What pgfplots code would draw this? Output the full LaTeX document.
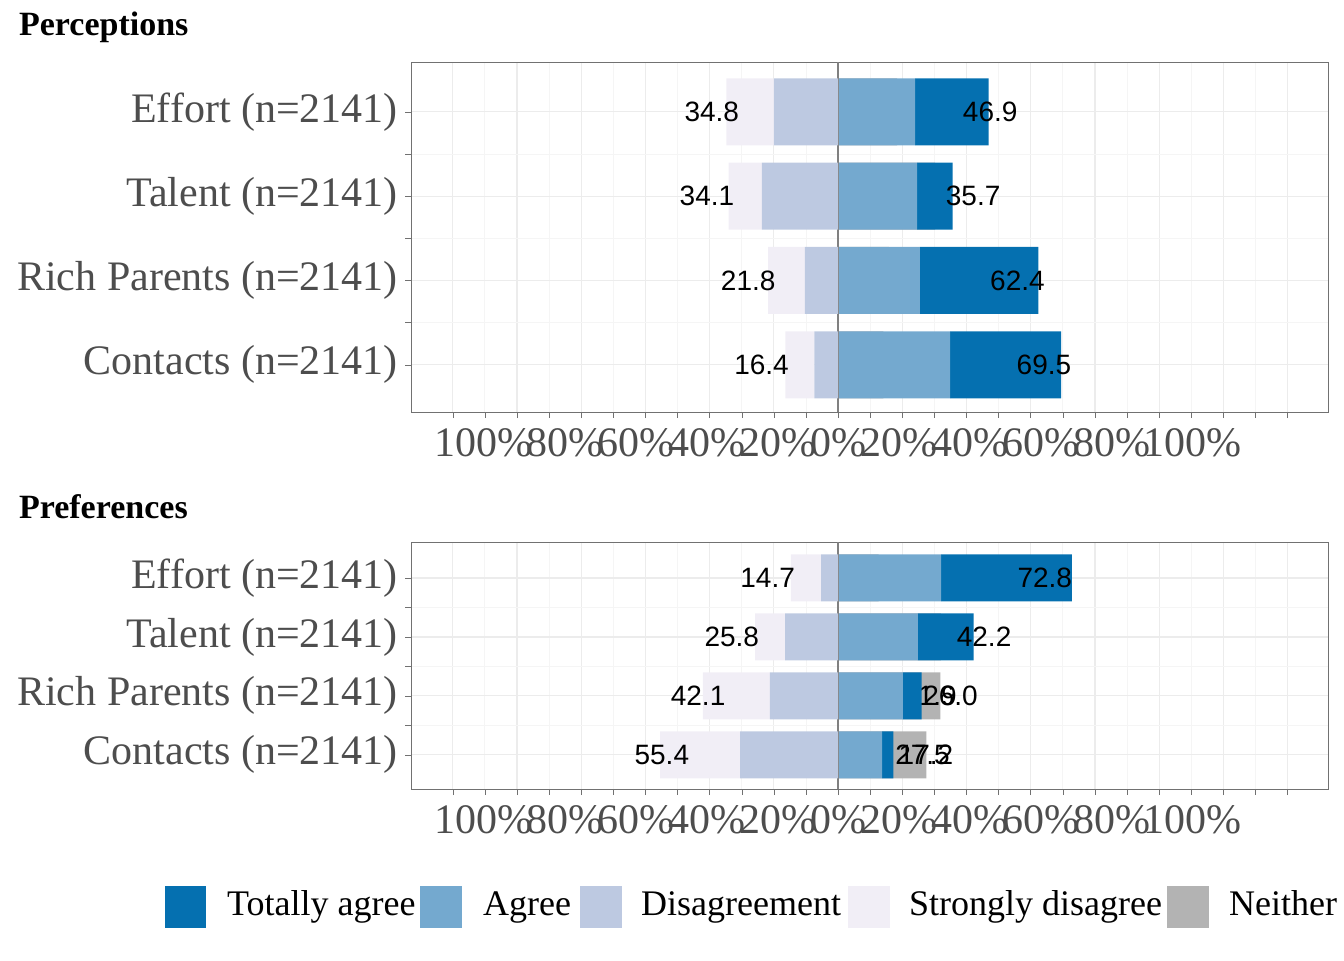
\documentclass[border=0pt]{standalone}
\usepackage{pgfplots}
\pgfplotsset{compat=1.18}
\usepackage{fontspec}
\setmainfont{Liberation Serif}
\newfontfamily\lab{Liberation Sans}
\definecolor{ta}{HTML}{0570B0}
\definecolor{ag}{HTML}{74A9CF}
\definecolor{di}{HTML}{BDC9E1}
\definecolor{sd}{HTML}{F1EEF6}
\definecolor{ne}{HTML}{B3B3B3}
\definecolor{gr}{HTML}{4D4D4D}
\pgfplotsset{
 base/.style={scale only axis, width=458.5pt, xmin=-133, xmax=152.6,
   ytick={1,2,3,4}, xtick={-120,-100,...,140}, xticklabels={},
   anchor=north west, clip=false},
 hid/.style={base, hide axis, xbar stacked},
 lbl/.style={nodes near coords, point meta=explicit symbolic,
   every node near coord/.append style={font=\lab\fontsize{14}{14}\selectfont, text=black}},
}
\begin{document}
\begin{tikzpicture}
\useasboundingbox (0pt,0pt) rectangle (672pt,-480pt);
\node[anchor=west,font=\bfseries\fontsize{17}{17}\selectfont] at (6pt,-13.5pt) {Perceptions};
\node[anchor=west,font=\bfseries\fontsize{17}{17}\selectfont] at (6pt,-253.5pt) {Preferences};
% ---------- Perceptions
\begin{axis}[base, at={(205.5pt,-31pt)}, height=175pt, ymin=0.44, ymax=4.59,
  axis line style={draw=gr!80}, tick style={gr!80}, major tick length=3pt,
  minor x tick num=1, minor y tick num=1,
  grid=both, major grid style={gray!15, line width=0.6pt}, minor grid style={gray!8, line width=0.4pt},
  yticklabels={Contacts (n=2141),Rich Parents (n=2141),Talent (n=2141),Effort (n=2141)},
  yticklabel style={font=\fontsize{21}{21}\selectfont, text=gr}, tick align=outside, ytick pos=left, xtick pos=bottom]
\node[font=\fontsize{21}{21}\selectfont, text=gr] at (axis cs:0,0.44) [yshift=-15.5pt] {100\%\kern-3pt80\%\kern-3pt60\%\kern-3pt40\%\kern-3pt20\%\kern-3pt0\%\kern-3pt20\%\kern-3pt40\%\kern-3pt60\%\kern-3pt80\%\kern-3pt100\%};
\end{axis}
\begin{axis}[hid, at={(205.5pt,-31pt)}, height=175pt, ymin=0.44, ymax=4.59, bar width=33.5pt]
\addplot[draw=none, fill=none] coordinates {(-120,4) (-120,3) (-120,2) (-120,1)};
\addplot[draw=none, fill=ne, lbl, every node near coord/.append style={anchor=west, xshift=3pt}] coordinates {(18.4,4)[18.4] (30.2,3)[30.2] (15.8,2)[15.8] (14.1,1)[14.1]};
\end{axis}
\begin{axis}[hid, at={(205.5pt,-31pt)}, height=175pt, ymin=0.44, ymax=4.59, bar width=33.5pt]
\addplot[draw=none, fill=ag] coordinates {(24.0,4) (24.6,3) (25.5,2) (34.9,1)};
\addplot[draw=none, fill=ta, lbl, every node near coord/.append style={anchor=west, xshift=2pt}] coordinates {(22.9,4)[46.9] (11.1,3)[35.7] (36.9,2)[62.4] (34.6,1)[69.5]};
\end{axis}
\begin{axis}[hid, at={(205.5pt,-31pt)}, height=175pt, ymin=0.44, ymax=4.59, bar width=33.5pt]
\addplot[draw=none, fill=di] coordinates {(-20.0,4) (-23.7,3) (-10.3,2) (-7.4,1)};
\addplot[draw=none, fill=sd, lbl, every node near coord/.append style={anchor=east, xshift=-2pt}] coordinates {(-14.8,4)[34.8] (-10.4,3)[34.1] (-11.5,2)[21.8] (-9.0,1)[16.4]};
\draw[gray, line width=0.6pt] (axis cs:0,0.44) -- (axis cs:0,4.59);
\end{axis}
% ---------- Preferences
\begin{axis}[base, at={(205.5pt,-271pt)}, height=123.5pt, ymin=0.42, ymax=4.61,
  axis line style={draw=gr!80}, tick style={gr!80}, major tick length=3pt,
  minor x tick num=1, minor y tick num=1,
  grid=both, major grid style={gray!15, line width=0.6pt}, minor grid style={gray!8, line width=0.4pt},
  yticklabels={Contacts (n=2141),Rich Parents (n=2141),Talent (n=2141),Effort (n=2141)},
  yticklabel style={font=\fontsize{21}{21}\selectfont, text=gr}, tick align=outside, ytick pos=left, xtick pos=bottom]
\node[font=\fontsize{21}{21}\selectfont, text=gr] at (axis cs:0,0.42) [yshift=-15.5pt] {100\%\kern-3pt80\%\kern-3pt60\%\kern-3pt40\%\kern-3pt20\%\kern-3pt0\%\kern-3pt20\%\kern-3pt40\%\kern-3pt60\%\kern-3pt80\%\kern-3pt100\%};
\end{axis}
\begin{axis}[hid, at={(205.5pt,-271pt)}, height=123.5pt, ymin=0.42, ymax=4.61, bar width=23.5pt]
\addplot[draw=none, fill=none] coordinates {(-120,4) (-120,3) (-120,2) (-120,1)};
\addplot[draw=none, fill=ne, lbl, every node near coord/.append style={anchor=west, xshift=3pt}] coordinates {(12.6,4)[12.6] (32.0,3)[32.0] (31.9,2)[31.9] (27.5,1)[27.5]};
\end{axis}
\begin{axis}[hid, at={(205.5pt,-271pt)}, height=123.5pt, ymin=0.42, ymax=4.61, bar width=23.5pt]
\addplot[draw=none, fill=ag] coordinates {(32.1,4) (24.9,3) (20.2,2) (13.7,1)};
\addplot[draw=none, fill=ta, lbl, every node near coord/.append style={anchor=west, xshift=2pt}] coordinates {(40.7,4)[72.8] (17.3,3)[42.2] (5.8,2)[26.0] (3.5,1)[17.2]};
\end{axis}
\begin{axis}[hid, at={(205.5pt,-271pt)}, height=123.5pt, ymin=0.42, ymax=4.61, bar width=23.5pt]
\addplot[draw=none, fill=di] coordinates {(-5.3,4) (-16.5,3) (-21.2,2) (-30.5,1)};
\addplot[draw=none, fill=sd, lbl, every node near coord/.append style={anchor=east, xshift=-2pt}] coordinates {(-9.4,4)[14.7] (-9.3,3)[25.8] (-20.9,2)[42.1] (-24.9,1)[55.4]};
\draw[gray, line width=0.6pt] (axis cs:0,0.42) -- (axis cs:0,4.61);
\end{axis}
% ---------- legend
\begin{scope}[font=\fontsize{18}{18}\selectfont]
\fill[ta] (82.5pt,-443pt) rectangle (103pt,-464pt);
\node[anchor=west] at (110pt,-453.5pt) {Totally agree};
\fill[ag] (210pt,-443pt) rectangle (231pt,-464pt);
\node[anchor=west] at (238pt,-453.5pt) {Agree};
\fill[di] (290pt,-443pt) rectangle (311pt,-464pt);
\node[anchor=west] at (317pt,-453.5pt) {Disagreement};
\fill[sd] (424pt,-443pt) rectangle (445pt,-464pt);
\node[anchor=west] at (451pt,-453.5pt) {Strongly disagree};
\fill[ne] (583.5pt,-443pt) rectangle (604.5pt,-464pt);
\node[anchor=west] at (611pt,-453.5pt) {Neither agree nor disagree};
\end{scope}
\end{tikzpicture}
\end{document}
